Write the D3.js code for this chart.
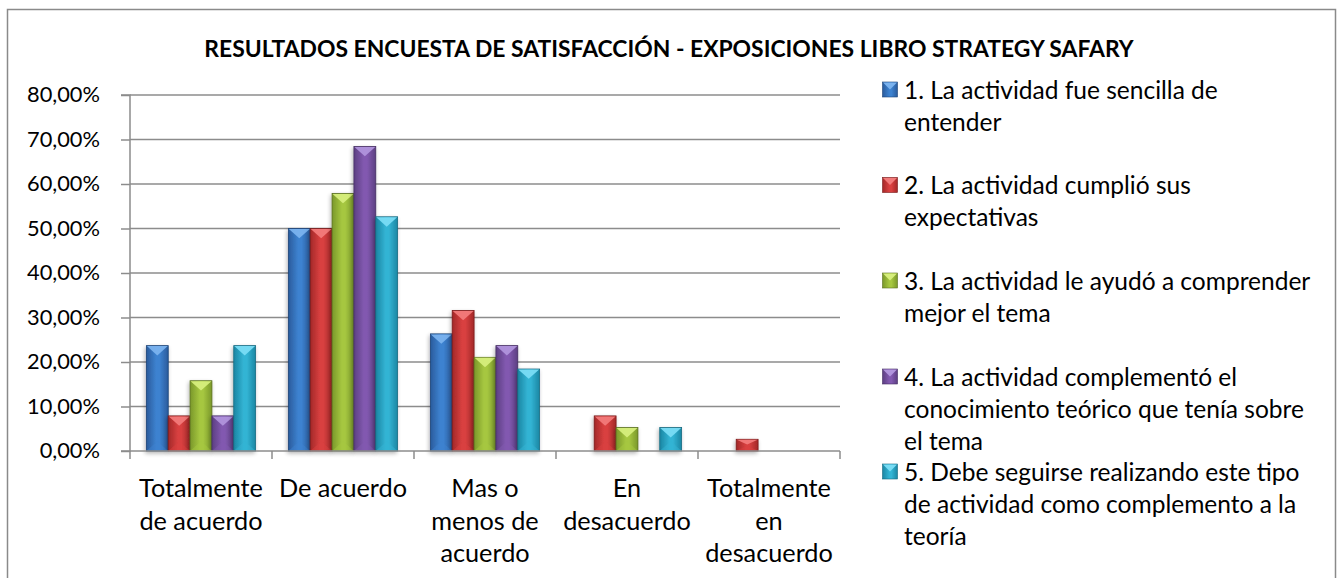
<!DOCTYPE html>
<html><head><meta charset="utf-8">
<script src="https://cdn.jsdelivr.net/npm/d3@7"></script>
<style>body{margin:0;background:#fff}svg{display:block}</style>
</head><body>
<svg id="c" width="1339" height="578"></svg>
<script>
// ---- data ----
const title = "RESULTADOS ENCUESTA DE SATISFACCIÓN - EXPOSICIONES LIBRO STRATEGY SAFARY";
const categories = ["Totalmente de acuerdo", "De acuerdo", "Mas o menos de acuerdo", "En desacuerdo", "Totalmente en desacuerdo"];
const categoryLines = [["Totalmente","de acuerdo"],["De acuerdo"],["Mas o","menos de","acuerdo"],["En","desacuerdo"],["Totalmente","en","desacuerdo"]];
const seriesNames = [
  "1. La actividad fue sencilla de entender",
  "2. La actividad cumplió sus expectativas",
  "3. La actividad le ayudó a comprender mejor el tema",
  "4. La actividad complementó el conocimiento teórico que tenía sobre el tema",
  "5. Debe seguirse realizando este tipo de actividad como complemento a la teoría"
];
const legendLines = [
  ["1. La actividad fue sencilla de","entender"],
  ["2. La actividad cumplió sus","expectativas"],
  ["3. La actividad le ayudó a comprender","mejor el tema"],
  ["4. La actividad complementó el","conocimiento teórico que tenía sobre","el tema"],
  ["5. Debe seguirse realizando este tipo","de actividad como complemento a la","teoría"]
];
const serie1 = [23.68, 50.00, 26.32, 0.00, 0.00];
const serie2 = [7.89, 50.00, 31.58, 7.89, 2.63];
const serie3 = [15.79, 57.89, 21.05, 5.26, 0.00];
const serie4 = [7.89, 68.42, 23.68, 0.00, 0.00];
const serie5 = [23.68, 52.63, 18.42, 5.26, 0.00];
const yTicks = [0, 10, 20, 30, 40, 50, 60, 70, 80];

// ---- styling ----
const palette = [
  {edge:"#2a5b9c", mid:"#3d82d0", top:"#7ab2ee", line:"#1d4478"},
  {edge:"#a32828", mid:"#d94040", top:"#f27a7a", line:"#7a1c1c"},
  {edge:"#7a982a", mid:"#a6c740", top:"#d6ee7c", line:"#5a7020"},
  {edge:"#5c3f82", mid:"#8259b0", top:"#b094dc", line:"#452e63"},
  {edge:"#1b86a3", mid:"#33b4d4", top:"#78dcf4", line:"#166a80"}
];
const allSeries = [serie1, serie2, serie3, serie4, serie5];
const FONT = "Lato, 'Open Sans', sans-serif";

const svg = d3.select("#c");
const defs = svg.append("defs");
palette.forEach((p, i) => {
  const g = defs.append("linearGradient").attr("id", "g" + i).attr("x1", 0).attr("x2", 1).attr("y1", 0).attr("y2", 0);
  g.append("stop").attr("offset", 0).attr("stop-color", p.edge);
  g.append("stop").attr("offset", 0.45).attr("stop-color", p.mid);
  g.append("stop").attr("offset", 0.6).attr("stop-color", p.mid);
  g.append("stop").attr("offset", 1).attr("stop-color", p.edge);
});
const sh = defs.append("filter").attr("id", "sh").attr("x", "-30%").attr("y", "-10%").attr("width", "160%").attr("height", "130%");
sh.append("feGaussianBlur").attr("in", "SourceAlpha").attr("stdDeviation", 2.2);
sh.append("feOffset").attr("dx", -1).attr("dy", 2).attr("result", "b");
sh.append("feComponentTransfer").append("feFuncA").attr("type", "linear").attr("slope", 0.3);
const mg = sh.append("feMerge"); mg.append("feMergeNode"); mg.append("feMergeNode").attr("in", "SourceGraphic");

// font fitting helper
const measure = svg.append("text").attr("x", -1000).attr("y", -1000);
function fit(sample, target, weight) {
  measure.attr("font-family", FONT).attr("font-size", 100).attr("font-weight", weight || "normal").text(sample);
  const w = measure.node().getComputedTextLength();
  return 100 * target / w;
}
const fsX = fit("Totalmente", 124);
const fsLegend = fit("2. La actividad cumplió sus", 287);
const fsY = fit("80,00%", 73);
const fsTitle = fit(title, 930, "bold");
measure.remove();

// chart border
svg.append("rect").attr("x", 7.5).attr("y", 9.5).attr("width", 1328).attr("height", 620)
  .attr("fill", "#fff").attr("stroke", "#8a8a8a").attr("stroke-width", 1.5);

// title
svg.append("text").attr("x", 669).attr("y", 48).attr("text-anchor", "middle").attr("dominant-baseline", "central")
  .attr("font-family", FONT).attr("font-weight", "bold").attr("font-size", fsTitle).attr("fill", "#000").text(title);

// scales
const x = d3.scaleBand().domain(d3.range(categories.length)).range([130, 840]).paddingInner(0).paddingOuter(0);
const xs = d3.scaleBand().domain(d3.range(allSeries.length)).range([0, x.bandwidth()]).paddingInner(0).paddingOuter(0.75);
const y = d3.scaleLinear().domain([0, 80]).range([451, 95]);

// gridlines
svg.append("g").selectAll("line").data(yTicks.filter(t => t > 0)).join("line")
  .attr("x1", 130).attr("x2", 840).attr("y1", d => y(d)).attr("y2", d => y(d))
  .attr("stroke", "#8c8c8c").attr("stroke-width", 1.5);

// y axis
const yAxis = svg.append("g").attr("transform", "translate(130,0)")
  .call(d3.axisLeft(y).tickValues(yTicks).tickSize(9).tickPadding(21)
    .tickFormat(d => d3.format(".2f")(d).replace(".", ",") + "%"));
yAxis.select(".domain").attr("stroke", "#8c8c8c").attr("stroke-width", 1.5).attr("d", `M-9,${y(80)}H0V${y(0)}H-9`);
yAxis.selectAll(".tick line").attr("stroke", "#8c8c8c").attr("stroke-width", 1.5);
yAxis.selectAll(".tick text").attr("font-family", FONT).attr("font-size", fsY).attr("fill", "#000");

// bars
const barsG = svg.append("g");
allSeries.forEach((vals, si) => {
  const p = palette[si];
  const g = barsG.append("g").attr("filter", "url(#sh)");
  const data = vals.map((v, ci) => ({v, ci})).filter(d => d.v > 0);
  const bw = xs.bandwidth();
  g.selectAll("rect").data(data).join("rect")
    .attr("x", d => x(d.ci) + xs(si)).attr("y", d => y(d.v))
    .attr("width", bw).attr("height", d => y(0) - y(d.v))
    .attr("fill", `url(#g${si})`).attr("stroke", p.line).attr("stroke-width", 0.8);
  // top bevel facet
  g.selectAll("path.top").data(data).join("path").attr("class", "top")
    .attr("d", d => {
      const x0 = x(d.ci) + xs(si), yt = y(d.v), h = y(0) - yt;
      const dep = Math.min(bw / 2, h / 2) * 0.9;
      return `M${x0 + 0.5},${yt + 0.5}L${x0 + bw - 0.5},${yt + 0.5}L${x0 + bw / 2},${yt + dep}Z`;
    })
    .attr("fill", p.top).attr("opacity", 0.95);
  // bottom bevel facet (subtle)
  g.selectAll("path.bot").data(data).join("path").attr("class", "bot")
    .attr("d", d => {
      const x0 = x(d.ci) + xs(si), yt = y(d.v), yb = y(0), h = yb - yt;
      const dep = Math.min(bw / 2, h / 2) * 0.9;
      return `M${x0 + 0.5},${yb - 0.5}L${x0 + bw - 0.5},${yb - 0.5}L${x0 + bw / 2},${yb - dep}Z`;
    })
    .attr("fill", p.mid).attr("opacity", 0.5);
});

// x axis
const xAxis = svg.append("g").attr("transform", `translate(0,${y(0)})`);
xAxis.append("line").attr("x1", 130).attr("x2", 840).attr("y1", 0).attr("y2", 0).attr("stroke", "#8c8c8c").attr("stroke-width", 1.5);
xAxis.selectAll("line.tk").data(d3.range(categories.length + 1)).join("line").attr("class", "tk")
  .attr("x1", i => i < categories.length ? x(i) : x(categories.length - 1) + x.bandwidth())
  .attr("x2", i => i < categories.length ? x(i) : x(categories.length - 1) + x.bandwidth())
  .attr("y1", 0).attr("y2", 8).attr("stroke", "#8c8c8c").attr("stroke-width", 1.5);
categoryLines.forEach((lines, ci) => {
  const t = xAxis.append("text").attr("text-anchor", "middle").attr("font-family", FONT)
    .attr("font-size", fsX).attr("fill", "#000");
  lines.forEach((ln, li) => {
    t.append("tspan").attr("x", x(ci) + x.bandwidth() / 2).attr("y", 36 + li * 32.5)
      .attr("dominant-baseline", "central").text(ln);
  });
});

// legend
const legY = [89, 184.5, 280, 376, 471];
const leg = svg.append("g");
legendLines.forEach((lines, si) => {
  const p = palette[si];
  const sq = leg.append("g");
  sq.append("rect").attr("x", 882.5).attr("y", legY[si] - 7).attr("width", 15).attr("height", 15)
    .attr("fill", `url(#g${si})`).attr("stroke", p.line).attr("stroke-width", 0.6);
  sq.append("path").attr("d", `M883,${legY[si] - 6.5}L897,${legY[si] - 6.5}L890,${legY[si] + 0.5}Z`).attr("fill", p.top);
  const t = leg.append("text").attr("font-family", FONT).attr("font-size", fsLegend).attr("fill", "#000");
  lines.forEach((ln, li) => {
    t.append("tspan").attr("x", 904).attr("y", legY[si] + li * 32.2).attr("dominant-baseline", "central").text(ln);
  });
});
</script>
</body></html>
